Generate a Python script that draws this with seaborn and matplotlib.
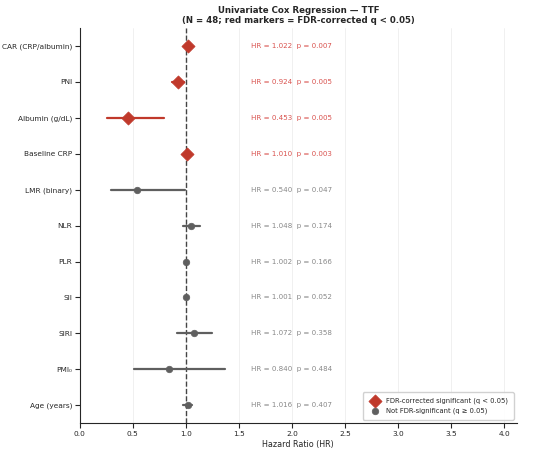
import numpy as np
import pandas as pd
import matplotlib
matplotlib.use('Agg')
import matplotlib.pyplot as plt
import seaborn as sns

# data
variables = ['CAR (CRP/albumin)', 'PNI', 'Albumin (g/dL)', 'Baseline CRP', 'LMR (binary)',
             'NLR', 'PLR', 'SII', 'SIRI', 'PMI₀', 'Age (years)']
hr = [1.022, 0.924, 0.453, 1.010, 0.540, 1.048, 1.002, 1.001, 1.072, 0.840, 1.016]
ci_low = [1.006, 0.87, 0.26, 1.003, 0.29, 0.97, 0.997, 0.999, 0.915, 0.51, 0.97]
ci_high = [1.039, 0.98, 0.79, 1.017, 0.99, 1.13, 1.007, 1.003, 1.25, 1.37, 1.06]
p_vals = [0.007, 0.005, 0.005, 0.003, 0.047, 0.174, 0.166, 0.052, 0.358, 0.484, 0.407]
fdr_sig = [True, True, True, True, False, False, False, False, False, False, False]

df = pd.DataFrame({'variable': variables, 'hr': hr, 'lo': ci_low, 'hi': ci_high,
                   'p': p_vals, 'sig': fdr_sig})
df['y'] = np.arange(len(df))

red = '#c0392b'
grey = '#5f5f5f'

sns.set_style('ticks')
plt.rcParams['font.family'] = ['DejaVu Sans']

fig, ax = plt.subplots(figsize=(5.5, 4.53), dpi=100)

for x in np.arange(0.5, 4.5, 0.5):
    ax.axvline(x, color='#eeeeee', lw=0.6, zorder=0)
ax.axvline(1.0, color='#444444', ls='--', lw=1.0, zorder=1)

for _, r in df.iterrows():
    c = red if r['sig'] else grey
    ax.plot([r['lo'], r['hi']], [r['y'], r['y']], color=c, lw=1.6, zorder=2)
    ax.text(1.61, r['y'], f"HR = {r['hr']:.3f}  p = {r['p']:.3f}", va='center', ha='left',
            fontsize=5.1, color='#d9534f' if r['sig'] else '#888888')

sig = df[df['sig']]
nsig = df[~df['sig']]
sns.scatterplot(data=sig, x='hr', y='y', marker='D', s=45, color=red, edgecolor=red,
                linewidth=0.5, zorder=3, ax=ax, label='FDR-corrected significant (q < 0.05)')
sns.scatterplot(data=nsig, x='hr', y='y', marker='o', s=22, color=grey, edgecolor=grey,
                linewidth=0.5, zorder=3, ax=ax, label='Not FDR-significant (q ≥ 0.05)')

ax.set_yticks(df['y'])
ax.set_yticklabels(df['variable'], fontsize=5.3)
ax.set_ylim(10.5, -0.5)
ax.set_xlim(0, 4.12)
ax.set_xticks(np.arange(0, 4.5, 0.5))
ax.tick_params(axis='x', labelsize=5.3, pad=2)
ax.tick_params(axis='y', pad=2)
ax.set_xlabel('Hazard Ratio (HR)', fontsize=5.8, labelpad=2)
ax.set_ylabel('')
ax.set_title('Univariate Cox Regression — TTF\n(N = 48; red markers = FDR-corrected q < 0.05)',
             fontsize=6.2, fontweight='bold', linespacing=1.1, pad=4)
sns.despine(ax=ax)
ax.legend(loc='lower right', fontsize=4.9, frameon=True, framealpha=0.9,
          borderpad=0.8, handletextpad=0.6)

plt.subplots_adjust(left=0.145, right=0.94, top=0.938, bottom=0.066)
plt.savefig('out.png', dpi=100)
